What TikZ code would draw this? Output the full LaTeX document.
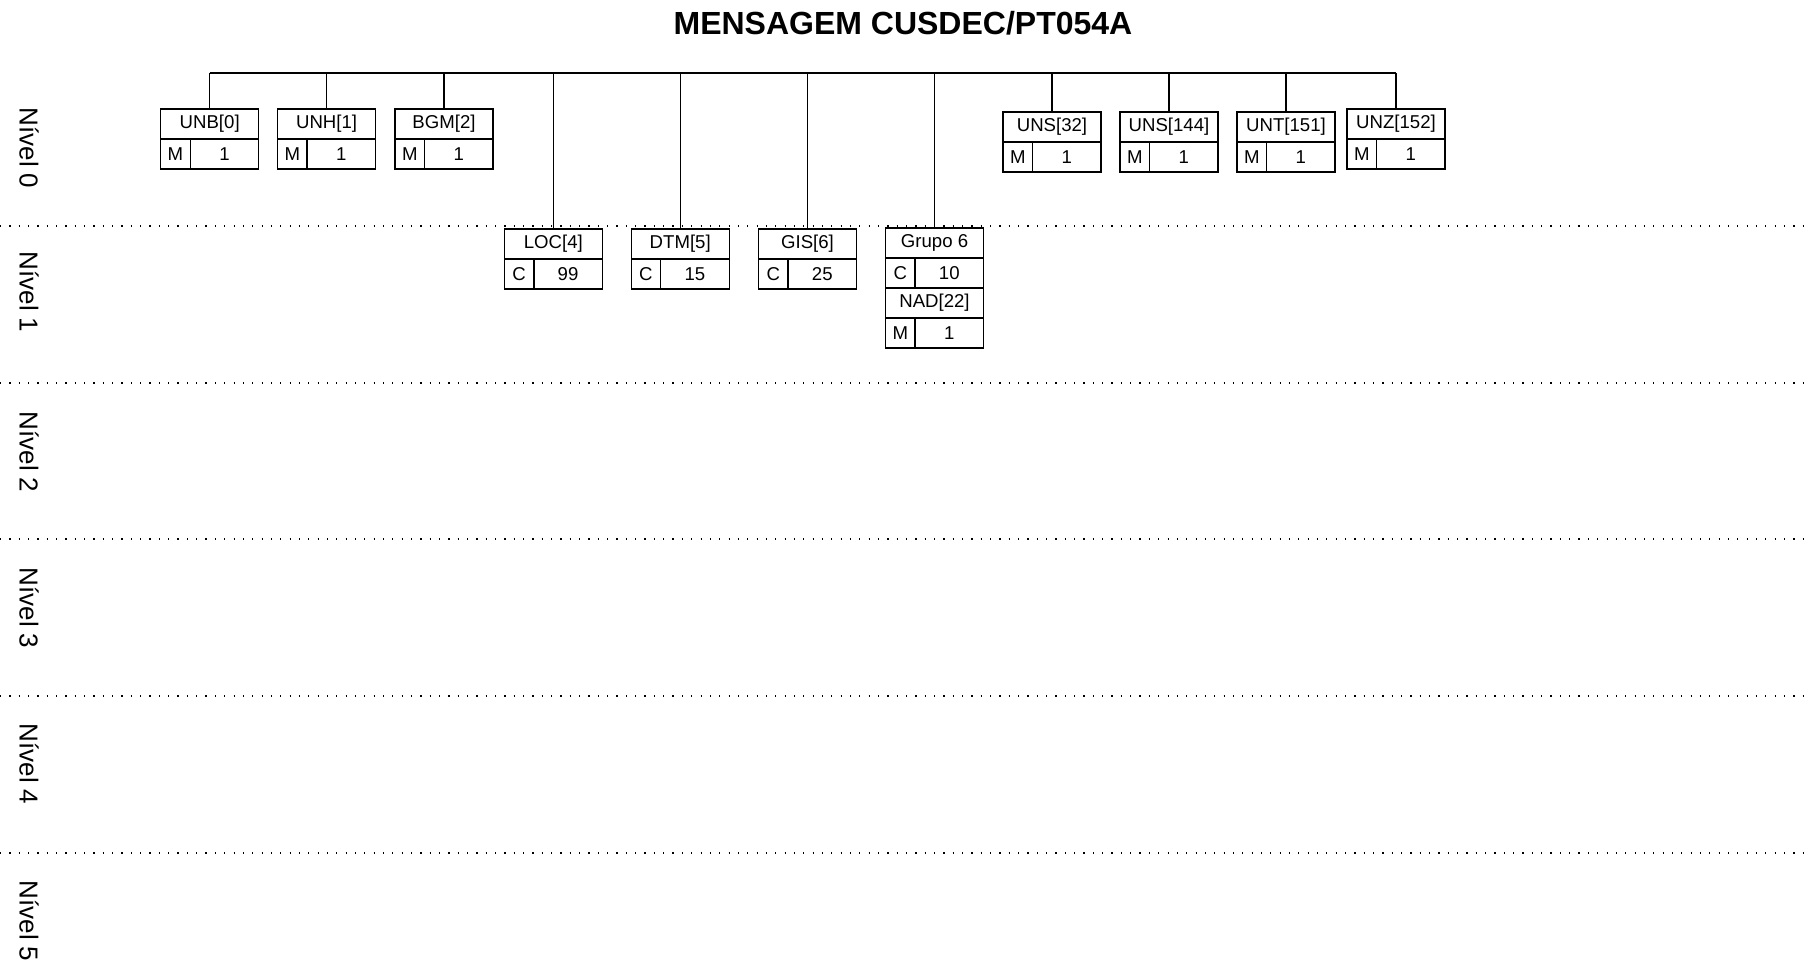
\documentclass[tikz,border=0pt]{standalone}
\usepackage{fontspec}
\setmainfont{Liberation Sans}
\usetikzlibrary{positioning}
\tikzset{
  segcell/.style={draw, line width=0.7pt, outer sep=0pt, inner sep=0pt,
    minimum height=15pt, font=\fontsize{9.3}{10}\selectfont},
  segname/.style={segcell, minimum width=49pt},
  segst/.style={segcell, minimum width=14.75pt},
  segrep/.style={segcell, minimum width=34.25pt},
  bus/.style={line width=0.55pt},
  levelline/.style={line width=0.6pt, dash pattern=on 0.6pt off 4.07pt},
  levellabel/.style={rotate=-90, font=\fontsize{13}{15}\selectfont}
}
% segment box: name, top centre, label, status, repetitions
\newcommand{\segbox}[5]{%
  \node[segname, anchor=north] (#1) at #2 {#3};
  \node[segst, anchor=north west] (#1-st) at (#1.south west) {#4};
  \node[segrep, anchor=north east] (#1-rep) at (#1.south east) {#5};
}

\begin{document}
\begin{tikzpicture}[x=0.5pt, y=-0.5pt]
\useasboundingbox (0,0) rectangle (1808,964);
\node[font=\fontsize{16}{19}\selectfont\bfseries] (title) at (903,23) {MENSAGEM CUSDEC/PT054A};
% levels
\foreach \y in {226,383,539,696,853}
  \draw[levelline] (0,\y) -- (1808,\y);
\foreach \i/\y in {0/148,1/292,2/452,3/608,4/764,5/921}
  \node[levellabel] (nivel\i) at (29,\y) {Nível \i};
% level 0
\segbox{unb}{(209.7,109)}{UNB[0]}{M}{1}
\segbox{unh}{(326.6,109)}{UNH[1]}{M}{1}
\segbox{bgm}{(444,109)}{BGM[2]}{M}{1}
\segbox{uns32}{(1052,112)}{UNS[32]}{M}{1}
\segbox{uns144}{(1169,112)}{UNS[144]}{M}{1}
\segbox{unt}{(1286,112)}{UNT[151]}{M}{1}
\segbox{unz}{(1396,109)}{UNZ[152]}{M}{1}
% level 1
\segbox{loc}{(553.3,229)}{LOC[4]}{C}{99}
\segbox{dtm}{(680.2,229)}{DTM[5]}{C}{15}
\segbox{gis}{(807.5,229)}{GIS[6]}{C}{25}
\segbox{grp6}{(934.5,228)}{Grupo 6}{C}{10}
\segbox{nad}{(grp6.south |- grp6-st.south)}{NAD[22]}{M}{1}
% bus
\coordinate (busL) at (209.7,73);
\coordinate (busR) at (1396,73);
\draw[bus] (busL) -- (busR);
\foreach \n in {unb,unh,bgm,loc,dtm,gis,grp6,uns32,uns144,unt,unz}
  \draw[bus] (\n.north) -- (\n.north |- busL);
\end{tikzpicture}
\end{document}
